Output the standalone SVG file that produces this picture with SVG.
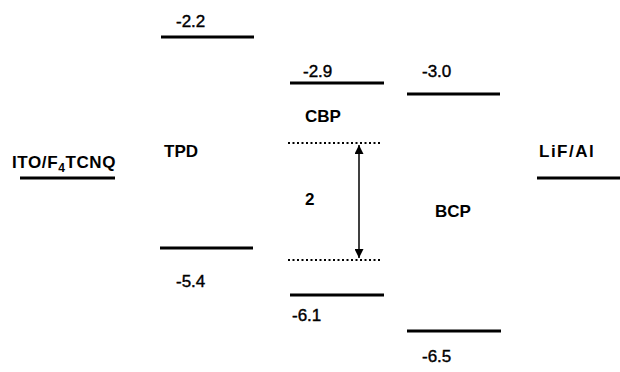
<svg xmlns="http://www.w3.org/2000/svg" width="620" height="372" viewBox="0 0 620 372">
  <style>
    .lvl { stroke: #000; stroke-width: 3; fill: none; }
    .dot { stroke: #000; stroke-width: 2; stroke-dasharray: 2 2.5; fill: none; }
    .lbl { font-family: "Liberation Sans", Arial, sans-serif; font-size: 17px; font-weight: bold; fill: #000; }
    .num { font-family: "Liberation Sans", Arial, sans-serif; font-size: 17px; fill: #000; stroke: #000; stroke-width: 0.4; }
  </style>
  <defs>
    <marker id="ah" viewBox="0 0 10 10" refX="10" refY="5" markerWidth="9" markerHeight="9" markerUnits="userSpaceOnUse" orient="auto-start-reverse">
      <path d="M0,0 L10,5 L0,10 Z" fill="#000"/>
    </marker>
  </defs>
  <rect width="620" height="372" fill="#fff"/>

  <g id="ito">
    <text class="lbl" x="12" y="168" letter-spacing="0.6">ITO/F<tspan font-size="12" dy="4">4</tspan><tspan dy="-4">TCNQ</tspan></text>
    <line class="lvl" x1="20" y1="178" x2="115" y2="178"/>
  </g>

  <g id="tpd">
    <text class="num" x="176" y="27">-2.2</text>
    <line class="lvl" x1="161" y1="37" x2="254" y2="37"/>
    <text class="lbl" x="164" y="157">TPD</text>
    <line class="lvl" x1="160" y1="248" x2="253" y2="248"/>
    <text class="num" x="176" y="287">-5.4</text>
  </g>

  <g id="cbp">
    <text class="num" x="303" y="77">-2.9</text>
    <line class="lvl" x1="290" y1="83" x2="384" y2="83"/>
    <text class="lbl" x="305" y="122">CBP</text>
    <line class="dot" x1="288" y1="143" x2="382" y2="143"/>
    <text class="lbl" x="305" y="205">2</text>
    <line class="dot" x1="288" y1="260" x2="382" y2="260"/>
    <line class="lvl" x1="290" y1="295" x2="384" y2="295"/>
    <text class="num" x="292" y="321">-6.1</text>
  </g>

  <g id="bcp">
    <text class="num" x="422" y="77">-3.0</text>
    <line class="lvl" x1="407" y1="94" x2="500" y2="94"/>
    <text class="lbl" x="435" y="217">BCP</text>
    <line class="lvl" x1="407" y1="331" x2="501" y2="331"/>
    <text class="num" x="422" y="362">-6.5</text>
  </g>

  <g id="lifal">
    <text class="lbl" x="539" y="157" letter-spacing="1.5">LiF/Al</text>
    <line class="lvl" x1="537" y1="178" x2="620" y2="178"/>
  </g>

  <g id="connectors">
    <line x1="359" y1="145" x2="359" y2="258" stroke="#000" stroke-width="1.5" marker-start="url(#ah)" marker-end="url(#ah)"/>
  </g>
</svg>
